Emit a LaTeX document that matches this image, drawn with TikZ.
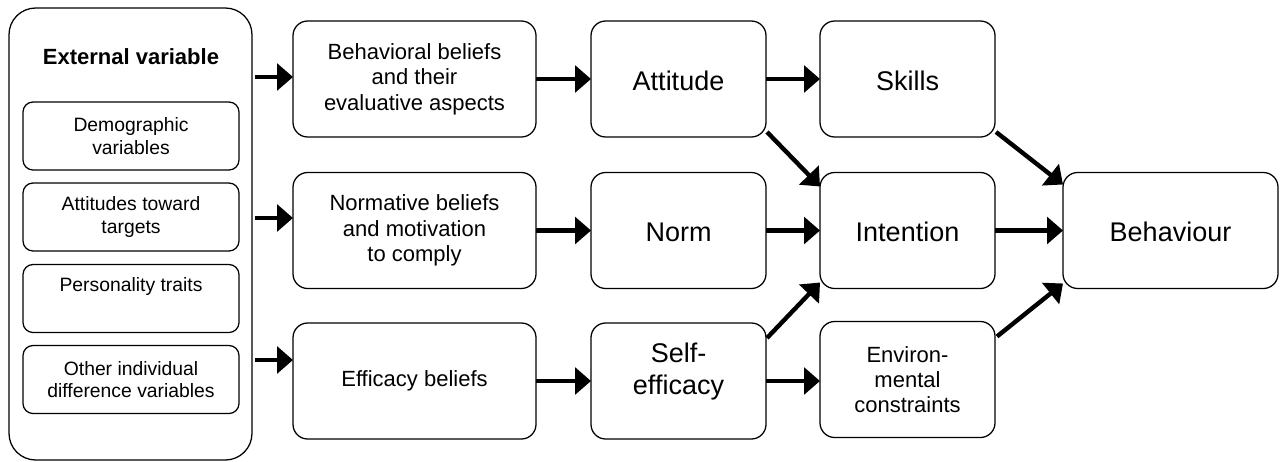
\documentclass[tikz,border=0pt]{standalone}
\usepackage{fontspec}
\setmainfont{Liberation Sans}
\usetikzlibrary{arrows.meta,calc}
\begin{document}
\begin{tikzpicture}[x=0.75pt,y=-0.75pt,
  box/.style={draw, line width=0.95pt, rounded corners=11pt, inner sep=0pt, outer sep=0pt, align=center},
  colbox/.style={box, minimum height=87pt},
  wide/.style={colbox, minimum width=182.25pt, font=\fontsize{16.5}{19}\selectfont},
  narrow/.style={colbox, minimum width=131.25pt, font=\fontsize{20.25}{24}\selectfont},
  inbox/.style={box, rounded corners=7.5pt, minimum width=162pt, minimum height=51pt, font=\fontsize{14.5}{16.7}\selectfont},
  txt/.style={inner sep=0pt, align=center},
  arr/.style={line width=3.3pt, -{Triangle[length=12pt,width=20pt]}}
]
\useasboundingbox (0,0) rectangle (1280,461);
% external variable block
\node[box, rounded corners=20pt, minimum width=182.25pt, minimum height=339pt] (outer) at (130.5,234) {};
\node[txt, font=\fontsize{16.5}{19}\selectfont\bfseries] (extt) at (131,57) {External variable};
\node[inbox] (demo) at (131,136) {Demographic\\variables};
\node[inbox] (atttar) at (131,217) {Attitudes toward\\targets};
\node[inbox] (pers) at (131,298.5) {Personality traits\\\strut};
\node[inbox] (other) at (131,379.5) {Other individual\\difference variables};
% column 2
\node[wide] (bb) at (414.5,79) {Behavioral beliefs\\and their\\evaluative aspects};
\node[wide] (nb) at (414.5,230.5) {Normative beliefs\\and motivation\\to comply};
\node[wide] (eb) at (414.5,381) {Efficacy beliefs};
% column 3
\node[narrow, text height=17pt] (att) at (678.5,79) {Attitude};
\node[narrow, text height=17pt] (norm) at (678.5,230.5) {Norm};
\node[narrow] (se) at (678.5,381) {};
\node[txt, font=\fontsize{20.25}{24}\selectfont] (set) at (678.5,372) {Self-\\efficacy};
% column 4
\node[narrow, text height=17pt] (sk) at (907.5,79) {Skills};
\node[narrow, text height=17pt] (int) at (907.5,230.5) {Intention};
\node[narrow, font=\fontsize{16.5}{19}\selectfont] (env) at (907.5,379.5) {Environ-\\mental\\constraints};
% behaviour
\node[box, minimum width=161.25pt, minimum height=87pt, text height=17pt, font=\fontsize{20.25}{24}\selectfont] (beh) at (1170.5,230.5) {Behaviour};
% arrows from external variable
\coordinate (o1) at (255,77);
\coordinate (o2) at (255,218);
\coordinate (o3) at (255,360);
\draw[arr] (o1) -- (o1 -| bb.west);
\draw[arr] (o2) -- (o2 -| nb.west);
\draw[arr] (o3) -- (o3 -| eb.west);
% horizontal arrows
\draw[arr] (bb.east) -- (att.west);
\draw[arr] (nb.east) -- (norm.west);
\draw[arr] (eb.east) -- (se.west);
\draw[arr] (att.east) -- (sk.west);
\draw[arr] (norm.east) -- (int.west);
\draw[arr] (se.east) -- (se.east -| env.west);
\draw[arr] (int.east) -- (beh.west);
% diagonal arrows
\draw[arr] ($(att.south east)+(1,-5)$) -- ($(int.north west)+(0,14)$);
\draw[arr] ($(se.north east)+(1,15)$) -- ($(int.south west)+(0,-6)$);
\draw[arr] ($(sk.south east)+(1,-5)$) -- ($(beh.north west)+(0,12)$);
\draw[arr] ($(env.north east)+(2,15)$) -- ($(beh.south west)+(0,-5)$);
\end{tikzpicture}
\end{document}
